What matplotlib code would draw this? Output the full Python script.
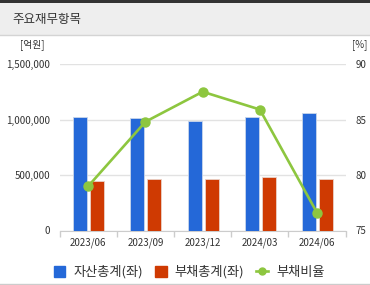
import matplotlib
matplotlib.use("Agg")
import matplotlib.pyplot as plt
from matplotlib.patches import Rectangle
from matplotlib.lines import Line2D
import numpy as np

plt.rcParams['font.family'] = ['Noto Sans CJK KR', 'DejaVu Sans']

categories = ["2023/06", "2023/09", "2023/12", "2024/03", "2024/06"]
assets = [1025000, 1011000, 989000, 1025000, 1056000]
liabilities = [449000, 467000, 467000, 479000, 461000]
debt_ratio = [79.0, 84.8, 87.5, 85.9, 76.6]
left_ticks = [0, 500000, 1000000, 1500000]
right_ticks = [75, 80, 85, 90]

W, H = 370, 285
fig = plt.figure(figsize=(W / 100, H / 100), dpi=100)

def fx(px):
    return px / W

def fy(py):
    return 1 - py / H

# header
fig.patches.append(Rectangle((0, fy(35)), 1, fy(3) - fy(35), transform=fig.transFigure,
                             facecolor="#eeeeee", edgecolor="none", zorder=0))
fig.patches.append(Rectangle((0, fy(3)), 1, 1 - fy(3), transform=fig.transFigure,
                             facecolor="#333333", edgecolor="none", zorder=0))
fig.lines.append(Line2D([0, 1], [fy(35.5), fy(35.5)], transform=fig.transFigure,
                        color="#d4d4d4", lw=1))
fig.lines.append(Line2D([0, 1], [fy(283.5), fy(283.5)], transform=fig.transFigure,
                        color="#cccccc", lw=1))
fig.text(fx(12), fy(20), "주요재무항목", fontsize=9, color="#333333", va="center", ha="left")

left, right = 59.7, 345.6
top, bottom = 64, 230.5
ax = fig.add_axes([fx(left), fy(bottom), fx(right) - fx(left), fy(top) - fy(bottom)])
x = np.arange(len(categories))
bw = 0.245
ax.bar(x - 0.14, assets, bw, color="#2468d8", edgecolor="#c9d6ea", linewidth=0.6, zorder=3)
ax.bar(x + 0.155, liabilities, bw, color="#cf3a02", edgecolor="#ead2c8", linewidth=0.6, zorder=3)
ax.set_xlim(-0.5, len(categories) - 0.5)
ax.set_ylim(0, 1500000)
ax.set_yticks(left_ticks)
ax.set_yticklabels([f"{v:,}" for v in left_ticks])
ax.set_xticks(x)
ax.set_xticklabels(categories)
ax.set_xticks(np.arange(len(categories) + 1) - 0.5, minor=True)
ax.tick_params(axis="x", which="major", length=0, labelsize=7, colors="#333333", pad=5)
ax.tick_params(axis="x", which="minor", length=4, color="#cccccc", width=1)
ax.tick_params(axis="y", length=0, labelsize=7, colors="#333333", pad=7)
ax.grid(axis="y", color="#e2e2e2", lw=1, zorder=0)
for s in ["top", "left", "right"]:
    ax.spines[s].set_visible(False)
ax.spines["bottom"].set_color("#cccccc")
ax.set_axisbelow(True)

ax2 = ax.twinx()
ax2.plot(x, debt_ratio, color="#8dc63f", lw=1.9, marker="o", markersize=6.5, zorder=5)
ax2.set_ylim(75, 90)
ax2.set_yticks(right_ticks)
ax2.tick_params(axis="y", length=0, labelsize=7, colors="#333333", pad=7)
for s in ["top", "left", "right", "bottom"]:
    ax2.spines[s].set_visible(False)

fig.text(fx(32), fy(45), "[억원]", fontsize=7, color="#333333", ha="center", va="center")
fig.text(fx(360), fy(45), "[%]", fontsize=7, color="#333333", ha="center", va="center")

handles = [Rectangle((0, 0), 1, 1, color="#2468d8"),
           Rectangle((0, 0), 1, 1, color="#cf3a02"),
           Line2D([], [], color="#8dc63f", lw=1.9, marker="o", markersize=5)]
fig.legend(handles, ["자산총계(좌)", "부채총계(좌)", "부채비율"], ncol=3, frameon=False,
           loc="center", bbox_to_anchor=(fx(189), fy(272)), fontsize=9.5,
           handlelength=0.9, handleheight=0.9, handletextpad=0.6, columnspacing=0.9,
           labelcolor="#333333")

fig.savefig("out.png", dpi=100)
